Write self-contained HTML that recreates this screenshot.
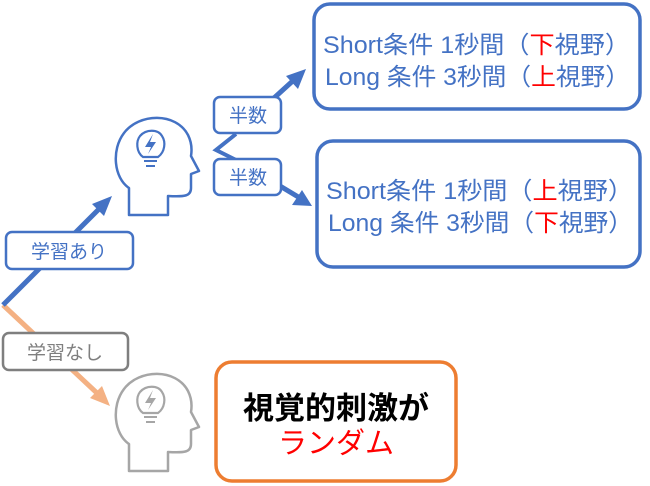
<!DOCTYPE html>
<html><head><meta charset="utf-8"><style>
html,body{margin:0;padding:0;background:#fff;}
svg{display:block;}
text{font-family:"Liberation Sans","Noto Sans CJK JP",sans-serif;}
</style></head><body>
<svg width="650" height="486" viewBox="0 0 650 486" xmlns="http://www.w3.org/2000/svg">
<defs>
<g id="head">
<path d="M129,215 L129,188 C114,178 111,150 124,133 C139,113 176,112 188,135 C192,143 192,150 191,156 L199,171 L191,174 L191,188 C191,196 185,197 168,196 L168,215 Z" fill="none" stroke-width="2.5" stroke-linejoin="round"/>
<path d="M143,157 C136,152 136,141 140,136 C146,129 158,129 162,136 C166,142 165,152 158,157 Z" fill="none" stroke-width="2.2"/>
<line x1="144" y1="161" x2="157" y2="161" stroke-width="2"/>
<line x1="146" y1="166" x2="155" y2="166" stroke-width="2"/>
<path d="M153,134 L145,147 L151,147 L148,154 L156,142 L150,142 Z" stroke="none"/>
</g>
</defs>
<line x1="3" y1="305" x2="98" y2="394" stroke="#f4b183" stroke-width="5"/>
<polygon points="110,406 90,398 102,386" fill="#f4b183"/>
<line x1="3" y1="305" x2="100" y2="208" stroke="#4472c4" stroke-width="5"/>
<polygon points="112,196 92,204 104,216" fill="#4472c4"/>
<polyline points="236,134 216,150 236,160" fill="none" stroke="#4472c4" stroke-width="4"/>
<line x1="274" y1="98" x2="296" y2="78" stroke="#4472c4" stroke-width="5"/>
<polygon points="306,69 286,76 298,89" fill="#4472c4"/>
<line x1="280" y1="186" x2="300" y2="198" stroke="#4472c4" stroke-width="5"/>
<polygon points="312,206 292,205 302,190" fill="#4472c4"/>
<g stroke="#4472c4" fill="#4472c4"><use href="#head"/></g>
<g stroke="#a6a6a6" fill="#a6a6a6" transform="translate(0,256)"><use href="#head"/></g>
<rect x="6" y="232" width="127" height="37" rx="6" fill="#fff" stroke="#4472c4" stroke-width="2.5"/>
<text x="69" y="258" font-size="19" fill="#4472c4" text-anchor="middle">学習あり</text>
<rect x="3" y="333" width="125" height="37" rx="6" fill="#fff" stroke="#7f7f7f" stroke-width="2.5"/>
<text x="65" y="359" font-size="19" fill="#7f7f7f" text-anchor="middle">学習なし</text>
<rect x="214" y="97" width="67" height="36" rx="6" fill="#fff" stroke="#4472c4" stroke-width="2.5"/>
<text x="248" y="122" font-size="19" fill="#4472c4" text-anchor="middle">半数</text>
<rect x="214" y="159" width="67" height="36" rx="6" fill="#fff" stroke="#4472c4" stroke-width="2.5"/>
<text x="248" y="184" font-size="19" fill="#4472c4" text-anchor="middle">半数</text>
<rect x="314" y="4" width="326" height="105" rx="16" fill="#fff" stroke="#4472c4" stroke-width="3.5"/>
<text x="323" y="53" font-size="24" fill="#4472c4" textLength="307" lengthAdjust="spacingAndGlyphs">Short条件 1秒間（<tspan fill="#ff0000">下</tspan>視野）</text>
<text x="325" y="85" font-size="24" fill="#4472c4" textLength="305" lengthAdjust="spacingAndGlyphs">Long 条件 3秒間（<tspan fill="#ff0000">上</tspan>視野）</text>
<rect x="317" y="141" width="323" height="126" rx="16" fill="#fff" stroke="#4472c4" stroke-width="3.5"/>
<text x="326" y="199" font-size="24" fill="#4472c4" textLength="307" lengthAdjust="spacingAndGlyphs">Short条件 1秒間（<tspan fill="#ff0000">上</tspan>視野）</text>
<text x="328" y="231" font-size="24" fill="#4472c4" textLength="305" lengthAdjust="spacingAndGlyphs">Long 条件 3秒間（<tspan fill="#ff0000">下</tspan>視野）</text>
<rect x="216" y="362" width="240" height="119" rx="16" fill="#fff" stroke="#ed7d31" stroke-width="3.5"/>
<text x="336" y="419" font-size="31" font-weight="bold" fill="#000" text-anchor="middle">視覚的刺激が</text>
<text x="336" y="453" font-size="29" fill="#ff0000" text-anchor="middle">ランダム</text>
</svg>
</body></html>
